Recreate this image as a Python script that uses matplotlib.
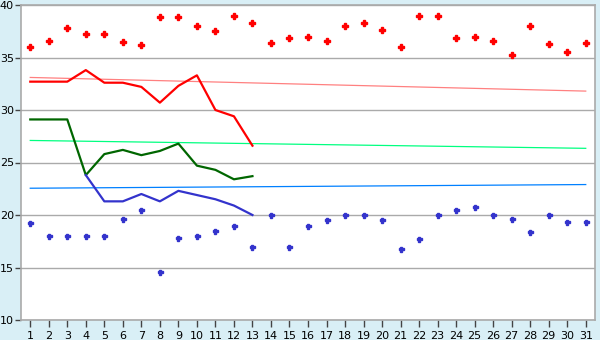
import matplotlib
matplotlib.use("Agg")
import matplotlib.pyplot as plt
import numpy as np

# day of month
days = list(range(1, 32))

# daily maxima / minima (scatter points)
high_points = [36.0, 36.6, 37.8, 37.2, 37.2, 36.5, 36.2, 38.9, 38.9, 38.0,
               37.5, 39.0, 38.25, 36.4, 36.9, 37.0, 36.6, 38.0, 38.25, 37.6,
               36.0, 39.0, 39.0, 36.9, 37.0, 36.6, 35.2, 38.0, 36.25, 35.5, 36.4]
low_points = [19.2, 18.0, 18.0, 18.0, 18.0, 19.6, 20.5, 14.6, 17.8, 18.0,
              18.5, 19.0, 17.0, 20.0, 17.0, 19.0, 19.5, 20.0, 20.0, 19.5,
              16.8, 17.7, 20.0, 20.5, 20.8, 20.0, 19.6, 18.4, 20.0, 19.3, 19.3]

# measured series, first 13 days only
line_days = list(range(1, 14))
red_line = [32.7, 32.7, 32.7, 33.8, 32.6, 32.6, 32.2, 30.7, 32.3, 33.3, 30.0, 29.4, 26.6]
green_line = [29.1, 29.1, 29.1, 23.8, 25.8, 26.2, 25.7, 26.1, 26.8, 24.7, 24.3, 23.4, 23.7]
blue_line = [None, None, None, 23.8, 21.3, 21.3, 22.0, 21.3, 22.3, 21.9, 21.5, 20.9, 20.0]

# trend lines (start, end)
trend_days = [1, 31]
red_trend = [33.1, 31.8]
green_trend = [27.1, 26.35]
blue_trend = [22.55, 22.9]

bg = "#d9eff6"
fig = plt.figure(figsize=(6, 3.4), dpi=100, facecolor=bg)
ax = fig.add_axes([21 / 600, 20 / 340, 574 / 600, 315 / 340])
ax.set_facecolor("white")

ax.set_xlim(0.5, 31.5)
ax.set_ylim(10, 40)
ax.set_yticks(range(10, 41, 5))
ax.set_xticks(days)
ax.yaxis.grid(True, color="#aaaaaa", linewidth=1)
ax.set_axisbelow(True)

for s in ax.spines.values():
    s.set_color("#aaaaaa")
    s.set_linewidth(1.2)
ax.tick_params(axis="both", colors="#444444", labelcolor="black", labelsize=8,
               length=4, width=1)
ax.tick_params(axis="y", pad=1)
ax.tick_params(axis="x", length=5, pad=3)

lw_trend = 0.9
ax.plot(trend_days, red_trend, color="#ff8080", linewidth=lw_trend)
ax.plot(trend_days, green_trend, color="#00ff80", linewidth=lw_trend)
ax.plot(trend_days, blue_trend, color="#0080ff", linewidth=lw_trend)

bl = np.array([np.nan if v is None else v for v in blue_line])
ax.plot(line_days, red_line, color="#ff0000", linewidth=1.6)
ax.plot(line_days, green_line, color="#006600", linewidth=1.6)
ax.plot(line_days, bl, color="#3333cc", linewidth=1.6)

ax.plot(days, high_points, "P", color="#ff0000", markersize=4, linestyle="none")
ax.plot(days, low_points, "P", color="#3333cc", markersize=3.6, linestyle="none")

fig.savefig("out.png", dpi=100, facecolor=bg)
